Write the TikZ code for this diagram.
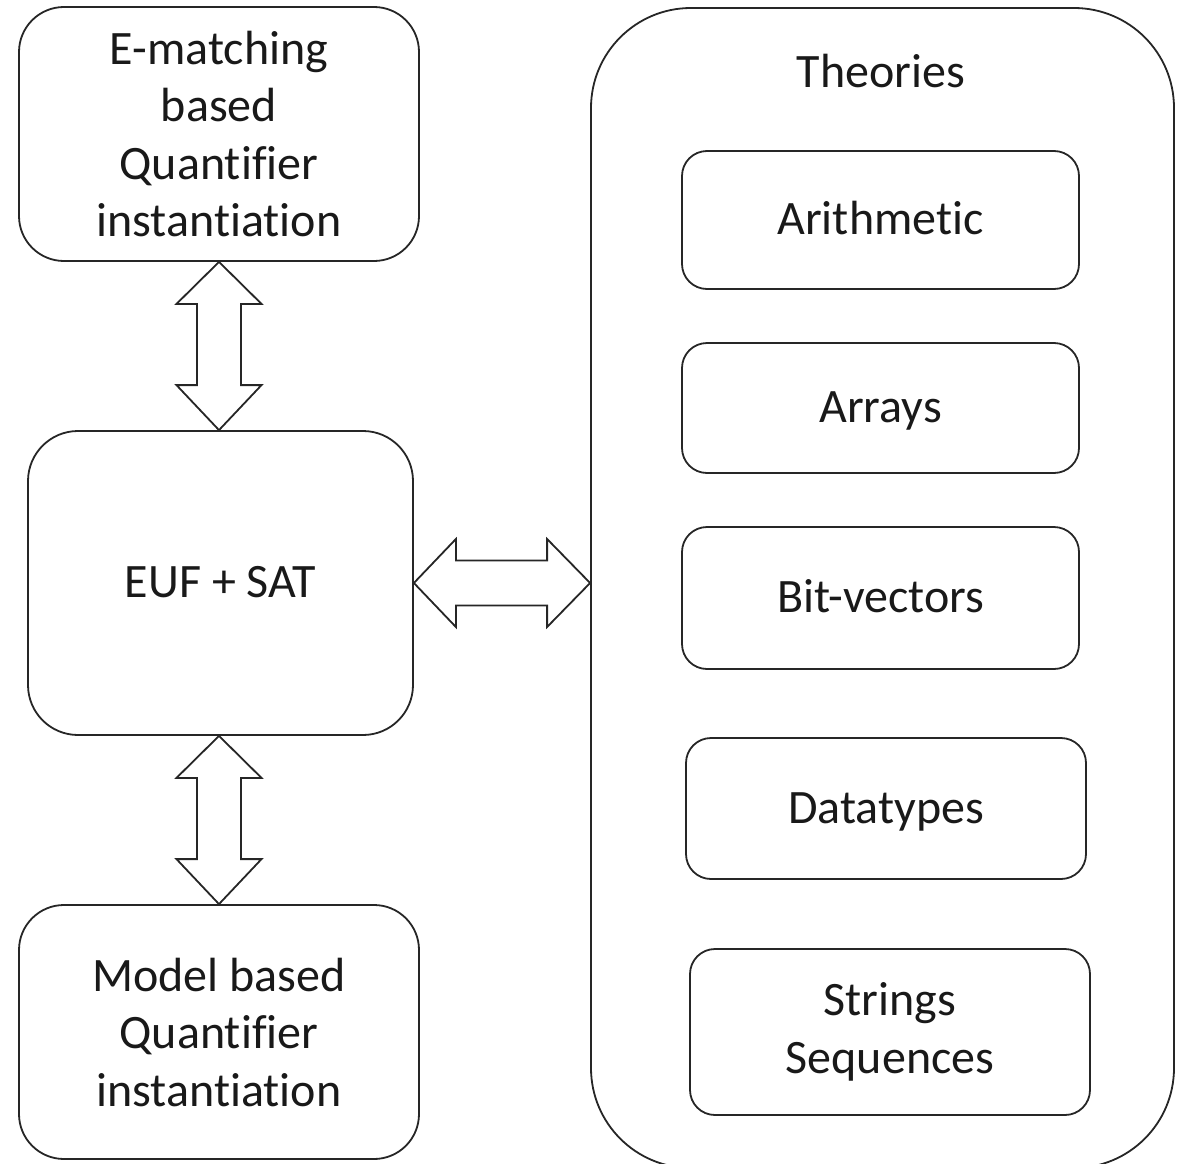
\documentclass[tikz,border=0pt]{standalone}
\usepackage{fontspec}
\setmainfont{Carlito}[Ligatures=NoCommon, RawFeature={-liga;-clig;-dlig}]
\usetikzlibrary{calc}

\tikzset{
  box/.style={draw=black!85, line width=1.8pt, rounded corners=#1,
    inner sep=0pt, align=center, text=black!90,
    font=\fontsize{48}{57.5}\selectfont},
  box/.default=45pt,
  oneline/.style={text height=39pt, text depth=10pt},
  blockarrow/.style={draw=black!85, line width=1.8pt, fill=white, line join=miter},
}

% vertical double-headed block arrow between two tips
\newcommand{\vdbl}[2]{%
  \draw[blockarrow] (#1) -- ($(#1)+(42.5,42)$) -- ($(#1)+(22,42)$)
    -- ($(#2)+(22,-45)$) -- ($(#2)+(42.5,-45)$) -- (#2)
    -- ($(#2)+(-42.5,-45)$) -- ($(#2)+(-22,-45)$)
    -- ($(#1)+(-22,42)$) -- ($(#1)+(-42.5,42)$) -- cycle;}

\begin{document}
\begin{tikzpicture}[x=1pt, y=-1pt]
\useasboundingbox (0,0) rectangle (1178,1164);

% left column
\node[box, minimum width=400pt, minimum height=254pt] (em) at (219,134)
  {E-matching\\based\\Quantifier\\instantiation};
\node[box=50pt, oneline, minimum width=385pt, minimum height=304pt] (euf) at (220.5,583)
  {EUF + SAT};
\node[box, minimum width=400pt, minimum height=254pt] (mb) at (219,1032)
  {Model based\\Quantifier\\instantiation};

% theories container
\node[box=100pt, minimum width=583pt, minimum height=1160pt] (th) at (882.5,588) {};
\node[font=\fontsize{48}{57.5}\selectfont, text=black!90, inner sep=0pt, oneline] (thlabel) at (881,73) {Theories};

\node[box=25pt, oneline, minimum width=397pt, minimum height=138pt] (arith) at (880.5,220) {Arithmetic};
\node[box=25pt, oneline, minimum width=397pt, minimum height=130pt] (arr) at (880.5,408) {Arrays};
\node[box=25pt, oneline, minimum width=397pt, minimum height=142pt] (bv) at (880.5,598) {Bit-vectors};
\node[box=25pt, oneline, minimum width=400pt, minimum height=141pt] (dt) at (886,808.5) {Datatypes};
\node[box=25pt, minimum width=400pt, minimum height=166pt] (str) at (890,1032) {Strings\\Sequences};

% connectors
\coordinate (t1) at (em.south);
\coordinate (b1) at (em.south |- euf.north);
\vdbl{t1}{b1}
\coordinate (t2) at (em.south |- euf.south);
\coordinate (b2) at (em.south |- mb.north);
\vdbl{t2}{b2}

\coordinate (hl) at (euf.east);
\coordinate (hr) at (th.west |- euf.east);
\draw[blockarrow] (hl) -- ($(hl)+(42,-44)$) -- ($(hl)+(42,-22.5)$)
  -- ($(hr)+(-43,-22.5)$) -- ($(hr)+(-43,-44)$) -- (hr)
  -- ($(hr)+(-43,44)$) -- ($(hr)+(-43,22.5)$)
  -- ($(hl)+(42,22.5)$) -- ($(hl)+(42,44)$) -- cycle;
\end{tikzpicture}
\end{document}
